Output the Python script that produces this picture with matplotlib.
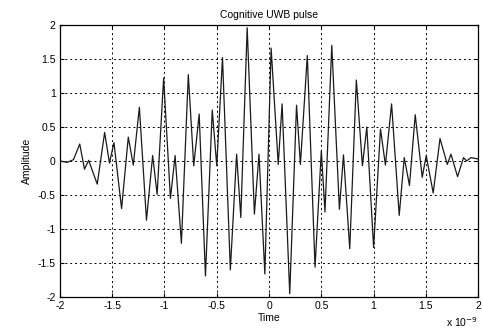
#!/usr/bin/env python3
"""
Cognitive UWB pulse - amplitude vs time (MATLAB-style figure)
"""

import matplotlib
matplotlib.use("Agg")
import matplotlib.pyplot as plt

# extrema (time in ns, amplitude)
tempo_ns = [
    -2.0, -1.93, -1.87, -1.81, -1.765, -1.725, -1.643, -1.572, -1.526, -1.483,
    -1.41, -1.346, -1.298, -1.24, -1.172, -1.113, -1.07, -1.008, -0.943, -0.898,
    -0.838, -0.772, -0.72, -0.668, -0.608, -0.543, -0.50, -0.445, -0.37, -0.31,
    -0.27, -0.209, -0.14, -0.096, -0.04, 0.02, 0.088, 0.125, 0.198, 0.263,
    0.30, 0.366, 0.44, 0.50, 0.535, 0.60, 0.673, 0.712, 0.772, 0.835,
    0.893, 0.935, 1.0, 1.066, 1.113, 1.172, 1.245, 1.293, 1.343, 1.398,
    1.465, 1.503, 1.57, 1.635, 1.705, 1.74, 1.803, 1.86, 1.89, 1.93, 2.0,
]
amplitude = [
    0.0, -0.02, 0.02, 0.25, -0.12, 0.01, -0.34, 0.42, -0.03, 0.27,
    -0.70, 0.35, -0.06, 0.79, -0.87, 0.08, -0.49, 1.22, -0.55, 0.08,
    -1.21, 1.27, -0.07, 0.69, -1.69, 0.75, -0.07, 1.52, -1.60, 0.10,
    -0.83, 1.96, -0.78, 0.10, -1.66, 1.66, -0.05, 0.84, -1.95, 0.82,
    -0.05, 1.55, -1.56, 0.15, -0.75, 1.70, -0.71, 0.09, -1.29, 1.19,
    -0.07, 0.50, -1.27, 0.47, -0.06, 0.84, -0.80, 0.05, -0.36, 0.68,
    -0.24, 0.08, -0.47, 0.33, -0.05, 0.10, -0.23, 0.05, 0.0, 0.05, 0.03,
]
ticks = [-2, -1.5, -1, -0.5, 0, 0.5, 1, 1.5, 2]
tick_labels = ["-2", "-1.5", "-1", "-0.5", "0", "0.5", "1", "1.5", "2"]

plt.rcParams["font.family"] = ["Liberation Sans", "DejaVu Sans"]
plt.rcParams["font.size"] = 7.5

fig = plt.figure(figsize=(4.83, 3.33), dpi=100)
ax = fig.add_axes([0.124, 0.108, 0.866, 0.817])

ax.plot(tempo_ns, amplitude, color="#1a1a1a", linewidth=0.9)

ax.set_xlim(-2, 2)
ax.set_ylim(-2, 2)
ax.set_xticks(ticks)
ax.set_xticklabels(tick_labels)
ax.set_yticks(ticks)
ax.set_yticklabels(tick_labels)

ax.tick_params(direction="in", top=True, right=True, length=3, width=0.8,
               labelsize=7.5, pad=3)
ax.grid(True, color="black", linestyle=(0, (2, 3)), linewidth=0.7)
for s in ax.spines.values():
    s.set_linewidth(0.9)

ax.set_title("Cognitive UWB pulse", fontsize=7.5, pad=5)
ax.set_xlabel("Time", fontsize=7.5, labelpad=1)
ax.set_ylabel("Amplitude", fontsize=7.5, labelpad=4)

# fator de escala do eixo x, como no MATLAB
fig.text(0.99, 0.012, "x 10$^{-9}$", ha="right", va="bottom", fontsize=7.5)

fig.savefig("out.png", dpi=100)
